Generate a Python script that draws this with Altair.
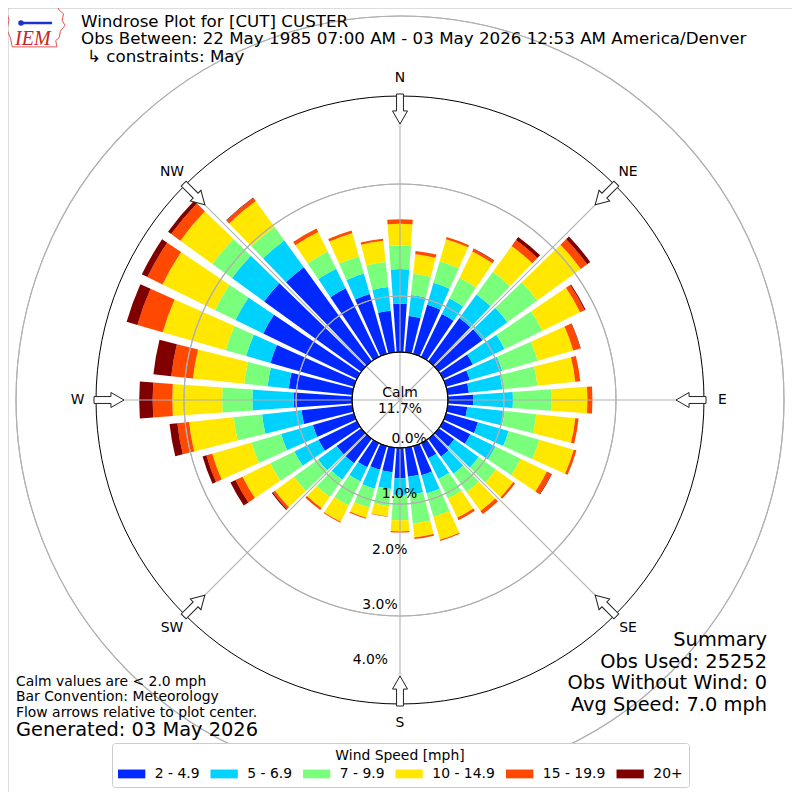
import math
import altair as alt
import pandas as pd

# ---------------- data ----------------
directions = list(range(0, 360, 10))
bins = ["2 - 4.9", "5 - 6.9", "7 - 9.9", "10 - 14.9", "15 - 19.9", "20+"]
colors = ["#0028ff", "#00d2ff", "#7aff7d", "#ffe700", "#ff4900", "#800000"]

# percent of observations per direction (0, 10, ... 350 deg) and speed bin
spd_2_5 = [0.86, 0.65, 0.91, 0.85, 0.95, 0.96, 0.59, 0.44, 0.38, 0.45, 0.35, 0.59,
           0.54, 0.34, 0.39, 0.30, 0.54, 0.52, 0.54, 0.44, 0.44, 0.48, 0.54, 0.54,
           0.76, 0.76, 0.91, 1.04, 1.14, 1.55, 1.86, 2.14, 2.07, 1.36, 1.11, 0.75]
spd_5_7 = [0.62, 0.38, 0.41, 0.31, 0.52, 0.55, 0.63, 0.60, 0.60, 0.71, 0.67, 0.57,
           0.50, 0.54, 0.38, 0.41, 0.34, 0.32, 0.30, 0.30, 0.35, 0.28, 0.36, 0.41,
           0.48, 0.59, 0.71, 0.74, 0.38, 0.45, 0.55, 0.71, 0.59, 0.39, 0.38, 0.42]
spd_7_10 = [0.42, 0.38, 0.40, 0.41, 0.50, 0.66, 0.75, 0.66, 0.63, 0.69, 0.57, 0.57,
            0.50, 0.38, 0.40, 0.39, 0.43, 0.52, 0.45, 0.31, 0.35, 0.48, 0.38, 0.53,
            0.48, 0.55, 0.51, 0.54, 0.42, 0.38, 0.41, 0.43, 0.30, 0.34, 0.32, 0.45]
spd_10_15 = [0.39, 0.35, 0.41, 0.52, 0.57, 0.96, 0.75, 0.66, 0.68, 0.64, 0.70, 0.64,
             0.52, 0.38, 0.42, 0.38, 0.43, 0.25, 0.20, 0.18, 0.19, 0.32, 0.25, 0.42,
             0.55, 0.73, 0.80, 0.89, 0.92, 1.17, 1.04, 0.71, 0.57, 0.39, 0.43, 0.38]
spd_15_20 = [0.08, 0.06, 0.04, 0.05, 0.13, 0.14, 0.09, 0.13, 0.09, 0.09, 0.06, 0.05,
             0.09, 0.04, 0.07, 0.05, 0.02, 0.03, 0.02, 0.01, 0.02, 0.02, 0.04, 0.05,
             0.14, 0.11, 0.21, 0.35, 0.39, 0.47, 0.30, 0.20, 0.07, 0.07, 0.05, 0.04]
spd_20p = [0.00, 0.00, 0.00, 0.01, 0.07, 0.07, 0.02, 0.01, 0.00, 0.00, 0.00, 0.00,
           0.01, 0.00, 0.00, 0.00, 0.00, 0.00, 0.00, 0.00, 0.00, 0.00, 0.00, 0.02,
           0.10, 0.07, 0.14, 0.24, 0.32, 0.20, 0.11, 0.07, 0.01, 0.00, 0.00, 0.00]
series = [spd_2_5, spd_5_7, spd_7_10, spd_10_15, spd_15_20, spd_20p]

calm_pct = "11.7%"
ring_values = [0, 1, 2, 3, 4]
ring_labels = ["0.0%", "1.0%", "2.0%", "3.0%", "4.0%"]
compass_names = ["N", "NE", "E", "SE", "S", "SW", "W", "NW"]
compass_angles = [0, 45, 90, 135, 180, 225, 270, 315]

# ---------------- geometry of the polar frame ----------------
W = H = 784
PX = 56.0                 # pixels per 1 %
OFF = 48.0 / PX           # radius of calm circle, in % units
RMAX = 256.0 / PX         # outer circle in %
HALF = 4.05               # half bar width (deg)

rscale = alt.Scale(type="linear", domain=[-OFF, RMAX], range=[0, 304], zero=False)
tscale = alt.Scale(type="linear", domain=[0, 360], range=[0, 2 * math.pi], zero=False)
xscale = alt.Scale(domain=[-7, 7], nice=False, zero=False)
yscale = alt.Scale(domain=[-7, 7], nice=False, zero=False)

rows = []
for i, d in enumerate(directions):
    cum = 0.0
    for k, (b, s) in enumerate(zip(bins, series)):
        v = s[i]
        if v > 0:
            rows.append(dict(direction=d, bin=b, order=k, value=v,
                             r0=cum, r1=cum + v, t0=d - HALF, t1=d + HALF))
        cum += v
bars_df = pd.DataFrame(rows)

bars = alt.Chart(bars_df).mark_arc(strokeWidth=0).encode(
    theta=alt.Theta("t0:Q", scale=tscale, stack=False),
    theta2="t1:Q",
    radius=alt.Radius("r1:Q", scale=rscale, stack=False),
    radius2="r0:Q",
    color=alt.Color(
        "bin:N",
        sort=bins,
        scale=alt.Scale(domain=bins, range=colors),
        legend=alt.Legend(
            title="Wind Speed [mph]", orient="none", legendX=104, legendY=735,
            direction="horizontal", columns=6,
            symbolType="M-1.95,-0.63L1.95,-0.63L1.95,0.63L-1.95,0.63Z", symbolSize=196,
            symbolOffset=6.65, symbolStrokeWidth=0, symbolOpacity=1,
            labelFont="DejaVu Sans", labelFontSize=13.9, labelOffset=16.2,
            labelColor="black", columnPadding=10.5,
            titleFont="DejaVu Sans", titleFontSize=13.9, titleFontWeight="normal",
            titleColor="black", titleAnchor="middle", titlePadding=4,
            padding=6, strokeColor="#cccccc", fillColor="white", cornerRadius=3,
        ),
    ),
)

rings = alt.Chart(pd.DataFrame({"v": ring_values[1:]})).mark_arc(
    theta=0, theta2=2 * math.pi, fillOpacity=0, stroke="#b0b0b0", strokeWidth=1.1
).encode(radius=alt.Radius("v:Q", scale=rscale))

outer = alt.Chart(pd.DataFrame({"v": [RMAX]})).mark_arc(
    theta=0, theta2=2 * math.pi, fillOpacity=0, stroke="black", strokeWidth=1
).encode(radius=alt.Radius("v:Q", scale=rscale))

calm = alt.Chart(pd.DataFrame({"v": [0.0]})).mark_arc(
    theta=0, theta2=2 * math.pi, fill="white", stroke="black", strokeWidth=1.1
).encode(radius=alt.Radius("v:Q", scale=rscale))

# spokes, arrows and labels in cartesian units (% + calm offset)
U_OUT = RMAX + OFF
sp = pd.DataFrame({"a": compass_angles})
sp["x0"] = 0.0
sp["y0"] = 0.0
sp["x1"] = [U_OUT * math.sin(math.radians(a)) for a in compass_angles]
sp["y1"] = [U_OUT * math.cos(math.radians(a)) for a in compass_angles]
spokes = alt.Chart(sp).mark_rule(color="#b0b0b0", strokeWidth=1.1).encode(
    x=alt.X("x0:Q", scale=xscale, axis=None),
    y=alt.Y("y0:Q", scale=yscale, axis=None),
    x2="x1:Q", y2="y1:Q",
)

U_ARROW = 291.0 / PX
ar = pd.DataFrame({"a": compass_angles})
ar["x"] = [U_ARROW * math.sin(math.radians(a)) for a in compass_angles]
ar["y"] = [U_ARROW * math.cos(math.radians(a)) for a in compass_angles]
ARROW = "M-0.23,-1L0.23,-1L0.23,0.13L0.5,0.13L0,1L-0.5,0.13L-0.23,0.13Z"
arrows = alt.Chart(ar).mark_point(
    shape=ARROW, filled=True, fill="white", stroke="#222222", strokeWidth=1,
    size=900, opacity=1, fillOpacity=1, strokeOpacity=1
).encode(
    x=alt.X("x:Q", scale=xscale, axis=None),
    y=alt.Y("y:Q", scale=yscale, axis=None),
    angle=alt.Angle("a:Q", scale=None),
)

U_LAB = 322.5 / PX
cl = pd.DataFrame({"name": compass_names, "a": compass_angles})
cl["x"] = [U_LAB * math.sin(math.radians(a)) for a in compass_angles]
cl["y"] = [U_LAB * math.cos(math.radians(a)) for a in compass_angles]
compass_text = alt.Chart(cl).mark_text(
    font="DejaVu Sans", fontSize=13.9, align="center", baseline="middle", color="black"
).encode(
    x=alt.X("x:Q", scale=xscale, axis=None),
    y=alt.Y("y:Q", scale=yscale, axis=None),
    text="name:N",
)

LAB_ANG = math.radians(190)
pl = pd.DataFrame({"v": ring_values, "label": ring_labels})
pl["x"] = [(v + OFF) * math.sin(LAB_ANG) for v in ring_values]
pl["y"] = [(v + OFF) * math.cos(LAB_ANG) for v in ring_values]
pct_text = alt.Chart(pl).mark_text(
    font="DejaVu Sans", fontSize=13.9, align="center", baseline="middle",
    dx=17.5, dy=-8, color="black"
).encode(
    x=alt.X("x:Q", scale=xscale, axis=None),
    y=alt.Y("y:Q", scale=yscale, axis=None),
    text="label:N",
)

one = pd.DataFrame({"k": [0]})


def txt(s, x, y, size=13.9, align="left", **kw):
    return alt.Chart(one).mark_text(
        text=s, font=kw.pop("font", "DejaVu Sans"), fontSize=size, align=align,
        baseline="alphabetic", color=kw.pop("color", "black"), **kw
    ).encode(x=alt.value(x), y=alt.value(y))


calm_text = txt("Calm", 392, 388.7, align="center") + txt(calm_pct, 392, 404.7, align="center")

titles = (
    txt("Windrose Plot for [CUT] CUSTER", 73, 18.7, size=16.7)
    + txt("Obs Between: 22 May 1985 07:00 AM - 03 May 2026 12:53 AM America/Denver", 73, 36.3, size=16.7)
    + txt("↳ constraints: May", 79, 53.7, size=16.7)
)

notes = (
    txt("Calm values are < 2.0 mph", 8, 677.5)
    + txt("Bar Convention: Meteorology", 8, 693.3)
    + txt("Flow arrows relative to plot center.", 8, 709.3)
    + txt("Generated: 03 May 2026", 8, 728.4, size=19.4)
)

summary = (
    txt("Summary", 759, 637.8, size=19.4, align="right")
    + txt("Obs Used: 25252", 759, 659.5, size=19.4, align="right")
    + txt("Obs Without Wind: 0", 759, 681.2, size=19.4, align="right")
    + txt("Avg Speed: 7.0 mph", 759, 702.8, size=19.4, align="right")
)

IOWA = ("M-0.95,-0.72L0.72,-0.72L0.8,-0.55L0.95,-0.42L0.9,-0.2L1,-0.02L0.84,0.18"
        "L0.8,0.4L0.68,0.5L0.72,0.72L-0.82,0.72L-0.88,0.42L-1,0.12L-0.93,-0.2L-1,-0.45Z")
logo_outline = alt.Chart(one).mark_point(
    shape=IOWA, filled=False, stroke="#e05555", strokeWidth=1, size=3364, opacity=1
).encode(x=alt.value(28), y=alt.value(18))
logo_line = alt.Chart(one).mark_rule(color="#1f2fd0", strokeWidth=2.5).encode(
    x=alt.value(13), x2=alt.value(44), y=alt.value(15)
)
logo_dot = alt.Chart(one).mark_point(
    shape="circle", filled=True, color="#1f2fd0", size=30, opacity=1
).encode(x=alt.value(13), y=alt.value(15))
logo_text = txt("IEM", 7, 37, size=20, font="Liberation Serif", color="#cc2222", fontStyle="italic")

chart = alt.layer(
    bars, rings, spokes, outer, calm, arrows, compass_text, pct_text, calm_text,
    titles, notes, summary, logo_outline, logo_line, logo_dot, logo_text,
).properties(
    width=W, height=H, autosize=alt.AutoSizeParams(type="none"), padding=0
).configure_view(strokeWidth=0).configure(font="DejaVu Sans")

chart.save("out.html", embed_options={"renderer": "svg", "actions": False})
